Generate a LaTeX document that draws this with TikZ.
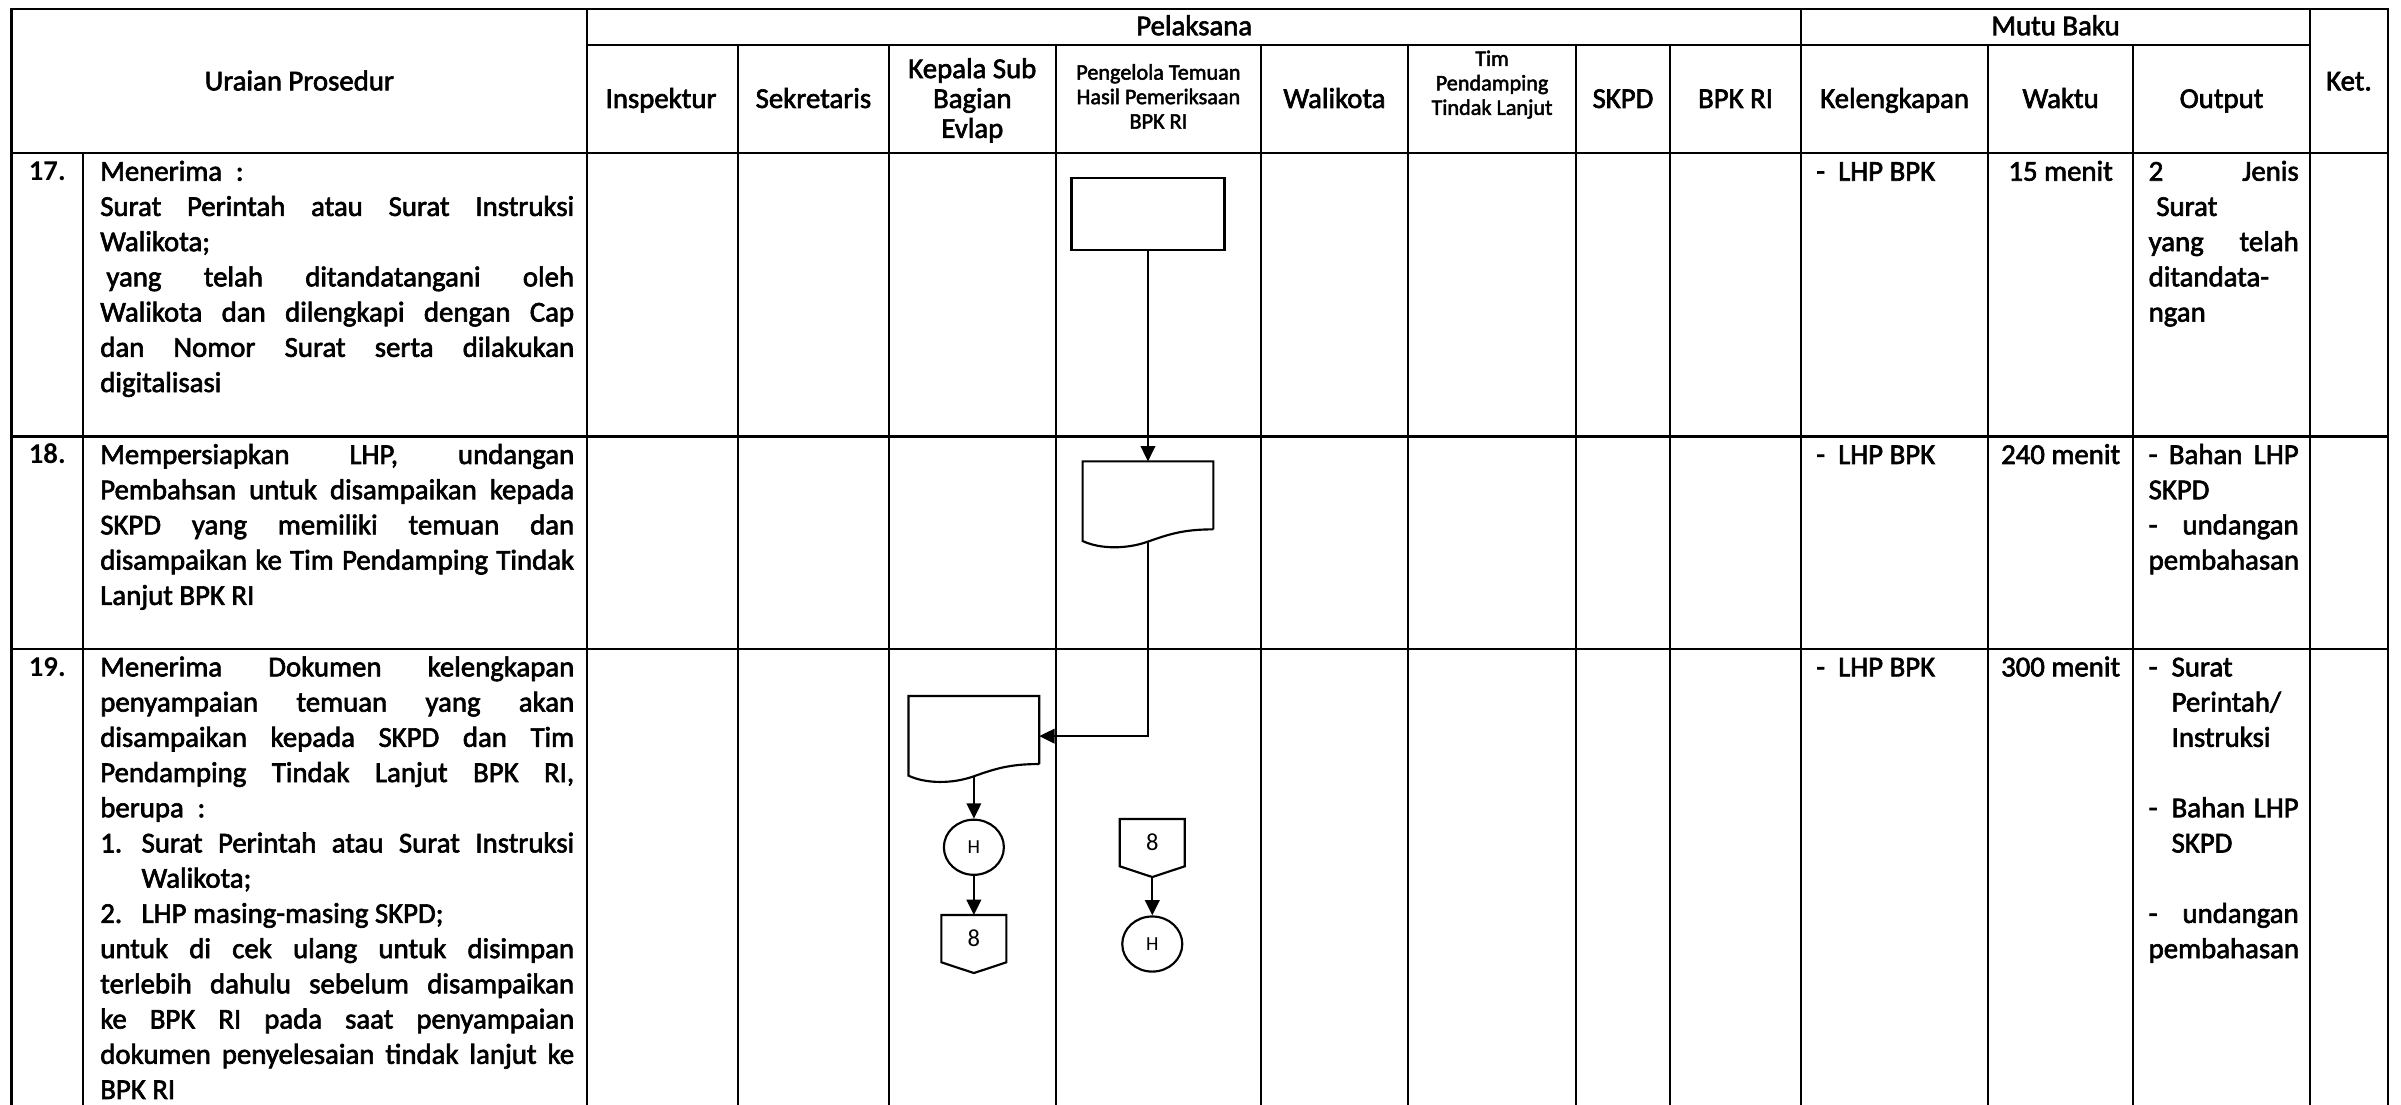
\documentclass[tikz,border=0pt]{standalone}
\usepackage{fontspec}
\setmainfont{Carlito}
\newfontfamily\hv{Carlito}[FakeBold=2.2]
\usetikzlibrary{arrows.meta,shapes.geometric}
\hbadness=10000 \hfuzz=5pt
\newcommand{\TBlock}[2]{\vtop{\hsize=#1\relax\frenchspacing\parindent=0pt #2}}
\newcommand{\JLine}[1]{\hbox to\hsize{#1}}
\newcommand{\RLine}[1]{\hbox to\hsize{#1\hfil}}
\newcommand{\CLine}[1]{\hbox to\hsize{\hfil#1\hfil}}
\newcommand{\DocShape}[1]{%
  \draw[shp] (#1.south east) -- (#1.north east) -- (#1.north west) -- ([yshift=-7.6pt]#1.south west)
    .. controls ([xshift=11.5pt,yshift=-13pt]#1.south west) and ([xshift=-14pt,yshift=-13pt]#1.south) .. ([yshift=-8pt]#1.south)
    .. controls ([xshift=14pt,yshift=-3pt]#1.south) and ([xshift=-19pt]#1.south east) .. (#1.south east);}
\newcommand{\OffPage}[1]{%
  \draw[shp] (#1.north west) -- (#1.north east) -- (#1.south east) -- ([yshift=-7pt]#1.south) -- (#1.south west) -- cycle;}
\def\gxL{7.5}\def\gxN{54.2}\def\gxU{383.5}\def\gxA{481.8}\def\gxB{580.5}\def\gxC{689.5}
\def\gxD{823.5}\def\gxE{919.5}\def\gxF{1029.2}\def\gxG{1090.6}\def\gxH{1176.2}
\def\gxI{1298.3}\def\gxJ{1393}\def\gxK{1508.5}\def\gxR{1559.5}
\def\gyT{6}\def\gyA{29.4}\def\gyB{100}\def\gyC{285.2}\def\gyD{423.7}\def\gyE{722}
\begin{document}
\begin{tikzpicture}[x=1pt,y=-1pt,
  grid/.style={line width=1.6pt, line cap=rect},
  shp/.style={draw, line width=1.4pt},
  arr/.style={line width=1.4pt, -{Triangle[length=10pt,width=9.5pt]}},
  body/.style={font=\hv\fontsize{18.8}{23}\selectfont, inner sep=0pt},
  num/.style={font=\fontsize{18.8}{23}\selectfont\bfseries, inner sep=0pt},
  hdr/.style={font=\hv\fontsize{18.8}{23}\selectfont, inner sep=0pt},
  hdrt/.style={font=\hv\fontsize{18.8}{19.5}\selectfont, inner sep=0pt},
  shdr/.style={font=\hv\fontsize{14.5}{16}\selectfont, inner sep=0pt},
  box/.style={minimum width=85pt, minimum height=44pt, inner sep=0pt},
  conn/.style={shp, ellipse, minimum width=39.2pt, minimum height=36pt, inner sep=0pt, font=\fontsize{13}{14}\selectfont},
  offp/.style={minimum width=42pt, minimum height=30.5pt, inner sep=0pt, font=\fontsize{16}{16}\selectfont},
]
\useasboundingbox (0,0) rectangle (1568,721);
% grid
\draw[grid] (\gxL,\gyT) -- (\gxR,\gyT);
\draw[grid] (\gxU,\gyA) -- (\gxK,\gyA);
\draw[grid] (\gxL,\gyB) -- (\gxR,\gyB);
\draw[grid] (\gxL,\gyC) -- (\gxR,\gyC);
\draw[grid] (\gxL,\gyD) -- (\gxR,\gyD);
\foreach \xx in {\gxL,\gxU,\gxH,\gxK,\gxR} \draw[grid] (\xx,\gyT) -- (\xx,\gyE);
\foreach \xx in {\gxA,\gxB,\gxC,\gxD,\gxE,\gxF,\gxG,\gxI,\gxJ} \draw[grid] (\xx,\gyA) -- (\xx,\gyE);
\draw[grid] (\gxN,\gyB) -- (\gxN,\gyE);
% headers
\node[hdr, anchor=base] (hUraian) at (195.5,59) {Uraian Prosedur};
\node[hdr, anchor=base] (hPel) at (779.9,23) {Pelaksana};
\node[hdr, anchor=base] (hMutu) at (1342.4,23) {Mutu Baku};
\node[hdr, anchor=base] (hKet) at (1534,59) {Ket.};
\node[hdr, anchor=base] (hInsp) at (431.7,70.5) {Inspektur};
\node[hdr, anchor=base] (hSek) at (531.2,70.5) {Sekretaris};
\node[hdrt, anchor=base] (hKep) at (635,51) {\TBlock{105pt}{\CLine{Kepala Sub}\CLine{Bagian}\CLine{Evlap}}};
\node[shdr, anchor=base] (hPeng) at (756.5,52) {\TBlock{130pt}{\CLine{Pengelola Temuan}\CLine{Hasil Pemeriksaan}\CLine{BPK RI}}};
\node[hdr, anchor=base] (hWali) at (871.5,70.5) {Walikota};
\node[shdr, anchor=base] (hTim) at (974.4,43) {\TBlock{105pt}{\CLine{Tim}\CLine{Pendamping}\CLine{Tindak Lanjut}}};
\node[hdr, anchor=base] (hSKPD) at (1059.9,70.5) {SKPD};
\node[hdr, anchor=base] (hBPK) at (1133.4,70.5) {BPK RI};
\node[hdr, anchor=base] (hKel) at (1237.3,70.5) {Kelengkapan};
\node[hdr, anchor=base] (hWak) at (1345.7,70.5) {Waktu};
\node[hdr, anchor=base] (hOut) at (1450.8,70.5) {Output};
% numbers
\node[num, anchor=base] (n17) at (30.9,118) {17.};
\node[num, anchor=base] (n18) at (30.9,303) {18.};
\node[num, anchor=base] (n19) at (30.9,441.7) {19.};
% uraian
\node[body, anchor=base west] (u17) at (65.3,118) {\TBlock{309.5pt}{%
\RLine{Menerima\hspace{9pt}:}
\JLine{Surat Perintah atau Surat Instruksi}
\RLine{Walikota;}
\JLine{\hspace*{4pt}yang telah ditandatangani oleh}
\JLine{Walikota dan dilengkapi dengan Cap}
\JLine{dan Nomor Surat serta dilakukan}
\RLine{digitalisasi}}};
\node[body, anchor=base west] (u18) at (65.3,303) {\TBlock{309.5pt}{%
\JLine{Mempersiapkan LHP, undangan}
\JLine{Pembahsan untuk disampaikan kepada}
\JLine{SKPD yang memiliki temuan dan}
\JLine{disampaikan ke Tim Pendamping Tindak}
\RLine{Lanjut BPK RI}}};
\node[body, anchor=base west] (u19) at (65.3,441.7) {\TBlock{309.5pt}{%
\JLine{Menerima Dokumen kelengkapan}
\JLine{penyampaian temuan yang akan}
\JLine{disampaikan kepada SKPD dan Tim}
\JLine{Pendamping Tindak Lanjut BPK RI,}
\RLine{berupa\hspace{9pt}:}
\JLine{\makebox[27pt][l]{1.}Surat Perintah atau Surat Instruksi}
\RLine{\hspace*{27pt}Walikota;}
\RLine{\makebox[27pt][l]{2.}LHP masing-masing SKPD;}
\JLine{untuk di cek ulang untuk disimpan}
\JLine{terlebih dahulu sebelum disampaikan}
\JLine{ke BPK RI pada saat penyampaian}
\JLine{dokumen penyelesaian tindak lanjut ke}
\RLine{BPK RI}}};
% kelengkapan
\node[body, anchor=base west] (k17) at (1186,118) {-\hspace{8.5pt}LHP BPK};
\node[body, anchor=base west] (k18) at (1186,303) {-\hspace{8.5pt}LHP BPK};
\node[body, anchor=base west] (k19) at (1186,441.7) {-\hspace{8.5pt}LHP BPK};
% waktu
\node[body, anchor=base] (w17) at (1345.7,118) {15 menit};
\node[body, anchor=base] (w18) at (1345.7,303) {240 menit};
\node[body, anchor=base] (w19) at (1345.7,441.7) {300 menit};
% output
\node[body, anchor=base west] (o17) at (1403,118) {\TBlock{98pt}{%
\JLine{2 Jenis}
\RLine{\hspace*{5pt}Surat}
\JLine{yang telah}
\RLine{ditandata-}
\RLine{ngan}}};
\node[body, anchor=base west] (o18) at (1403,303) {\TBlock{98pt}{%
\JLine{- Bahan LHP}
\RLine{SKPD}
\JLine{- undangan}
\RLine{pembahasan}}};
\node[body, anchor=base west] (o19) at (1403,441.7) {\TBlock{98pt}{%
\RLine{\makebox[15pt][l]{-}Surat}
\RLine{\hspace*{15pt}Perintah/}
\RLine{\hspace*{15pt}Instruksi}
\RLine{}
\JLine{\makebox[15pt][l]{-}Bahan LHP}
\RLine{\hspace*{15pt}SKPD}
\RLine{}
\JLine{- undangan}
\RLine{pembahasan}}};
% flow shapes
\node[shp, minimum width=100pt, minimum height=47pt, inner sep=0pt] (p1) at (749.7,139.8) {};
\node[box] (d1) at (749.7,323.5) {};
\DocShape{d1}
\node[box] (d2) at (636,476.75) {};
\DocShape{d2}
\node[conn] (h1) at (636,553.3) {H};
\node[offp] (o1) at (636,613) {8};
\OffPage{o1}
\node[offp] (o2) at (752.5,550.3) {8};
\OffPage{o2}
\node[conn] (h2) at (752.5,616.5) {H};
% connectors
\draw[arr] (p1.south) -- (d1.north);
\draw[arr] ([yshift=-8pt]d1.south) |- ([yshift=-4pt]d2.east);
\draw[arr] ([yshift=-8pt]d2.south) -- (h1.north);
\draw[arr] (h1.south) -- (o1.north);
\draw[arr] ([yshift=-7pt]o2.south) -- (h2.north);
\end{tikzpicture}
\end{document}
